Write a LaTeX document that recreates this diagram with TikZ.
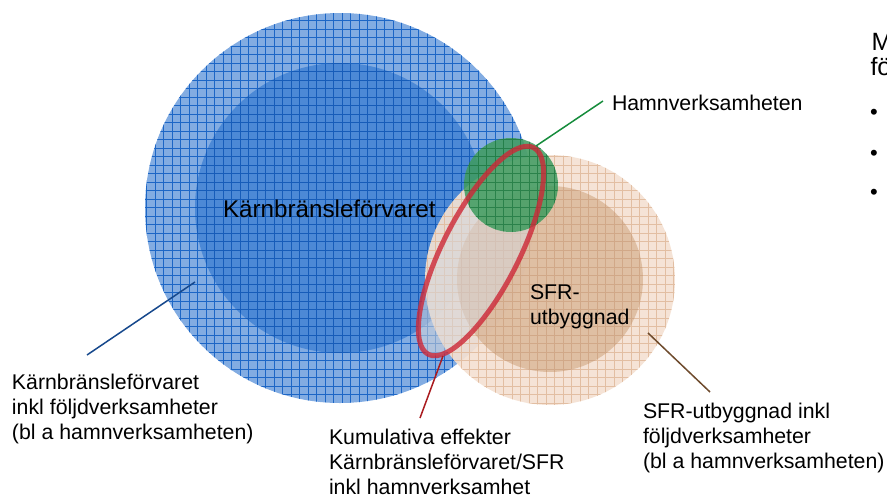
\documentclass[tikz,border=0pt]{standalone}
\usepackage{fontspec}
\setmainfont{Liberation Sans}
\definecolor{bluefillout}{RGB}{130,172,226}
\definecolor{bluegridout}{RGB}{28,102,198}
\definecolor{bluefillin}{RGB}{58,126,210}
\definecolor{bluegridin}{RGB}{22,92,185}
\definecolor{tanfillout}{RGB}{244,225,210}
\definecolor{tangridout}{RGB}{226,190,162}
\definecolor{tanfillin}{RGB}{218,182,152}
\definecolor{tangridin}{RGB}{203,158,125}
\definecolor{greenfill}{RGB}{62,155,94}
\definecolor{greengrid}{RGB}{32,122,66}
\definecolor{ellred}{RGB}{205,40,55}
\definecolor{ellfill}{RGB}{215,215,218}
\definecolor{lineblue}{RGB}{22,72,140}
\definecolor{linegreen}{RGB}{22,140,60}
\definecolor{linered}{RGB}{170,28,32}
\definecolor{linebrown}{RGB}{110,75,45}
\tikzset{
  lbl/.style={inner sep=0pt, outer sep=0pt, align=left, font=\fontsize{21.3}{25}\selectfont},
  biglbl/.style={inner sep=0pt, outer sep=0pt, font=\fontsize{24.2}{28}\selectfont},
  toplbl/.style={inner sep=0pt, outer sep=0pt, font=\fontsize{25}{28}\selectfont},
  bulletlbl/.style={inner sep=0pt, outer sep=0pt, font=\fontsize{22}{24}\selectfont},
  gridlines/.style={line width=0.9pt, step=8.5pt},
  leader/.style={line width=1.5pt}
}
\begin{document}
\begin{tikzpicture}[x=1pt,y=-1pt]
\useasboundingbox (0,0) rectangle (887,498);
% blue outer
\fill[bluefillout] (340,208) circle (195);
\begin{scope}
  \clip (340,208) circle (195);
  \draw[gridlines, bluegridout, shift={(2,3.7)}] (130,0) grid (545,410);
\end{scope}
% blue inner
\fill[bluefillin, opacity=0.75] (340,208) circle (145);
\begin{scope}
  \clip (340,208) circle (145);
  \draw[gridlines, bluegridin, shift={(2,3.7)}] (185,55) grid (495,365);
\end{scope}
% tan outer
\fill[tanfillout, opacity=0.92] (550,280) circle (125);
\begin{scope}
  \clip (550,280) circle (125);
  \draw[gridlines, tangridout, shift={(2,3.7)}] (415,145) grid (685,415);
\end{scope}
% tan inner
\fill[tanfillin, opacity=0.8] (550,279) circle (93);
\begin{scope}
  \clip (550,279) circle (93);
  \draw[gridlines, tangridin, opacity=0.6, shift={(2,3.7)}] (445,175) grid (655,385);
\end{scope}
% cumulative ellipse fill
\fill[ellfill, opacity=0.55, shift={(481,251)}, rotate=63] (0,0) ellipse [x radius=116, y radius=38];
% green
\fill[greenfill, opacity=0.85] (511,185) circle (47);
\begin{scope}
  \clip (511,185) circle (47);
  \draw[gridlines, greengrid, opacity=0.8, shift={(2,3.7)}] (455,130) grid (565,240);
\end{scope}
% cumulative ellipse outline
\draw[ellred, opacity=0.8, line width=5pt, shift={(481,251)}, rotate=63] (0,0) ellipse [x radius=116, y radius=38];

% labels
\node[biglbl, anchor=base west] (kbf) at (223,217) {Kärnbränsleförvaret};
\node[lbl, anchor=north west] (sfr) at (530,284.6) {SFR-\\utbyggnad};
\node[lbl, anchor=base west] (hamn) at (612,110) {Hamnverksamheten};
\node[lbl, anchor=north west] (lk) at (12,374.4) {Kärnbränsleförvaret\\inkl följdverksamheter\\(bl a hamnverksamheten)};
\node[lbl, anchor=north west] (lkum) at (329,429.4) {Kumulativa effekter\\Kärnbränsleförvaret/SFR\\inkl hamnverksamhet};
\node[lbl, anchor=north west] (lsfr) at (643,402.6) {SFR-utbyggnad inkl\\följdverksamheter\\(bl a hamnverksamheten)};
\node[toplbl, anchor=base west] (tm) at (871.5,50) {M};
\node[toplbl, anchor=base west] (tf) at (870.5,75) {fö};
\node[bulletlbl, anchor=base] (b1) at (874,119) {•};
\node[bulletlbl, anchor=base] (b2) at (874,160) {•};
\node[bulletlbl, anchor=base] (b3) at (874,199) {•};

% leader lines
\coordinate (bluept) at (195,282);
\coordinate (bluelbl) at (87,355);
\coordinate (greenpt) at (536,146);
\coordinate (greenlbl) at (603,101);
\coordinate (redpt) at (443,356);
\coordinate (redlbl) at (420,418);
\coordinate (brownpt) at (648,333);
\coordinate (brownlbl) at (710,392);
\draw[leader, lineblue] (bluept) -- (bluelbl);
\draw[leader, linegreen] (greenpt) -- (greenlbl);
\draw[leader, linered] (redpt) -- (redlbl);
\draw[leader, linebrown] (brownpt) -- (brownlbl);
\end{tikzpicture}
\end{document}
